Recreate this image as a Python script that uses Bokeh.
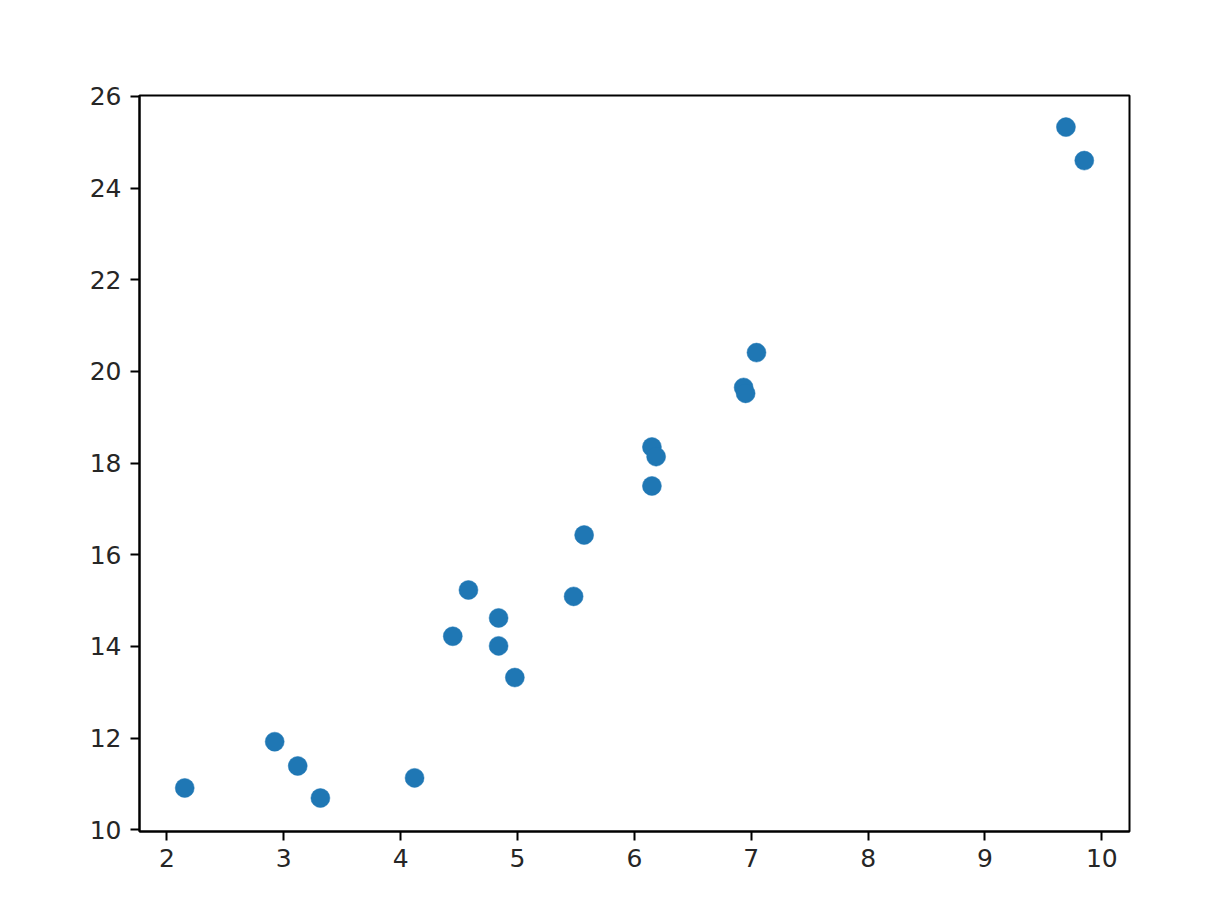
from bokeh.plotting import figure
from bokeh.models import FixedTicker, Range1d
from bokeh.embed import file_html
from bokeh.resources import INLINE

x = [2.152, 2.922, 3.119, 3.313, 4.119, 4.446, 4.580, 4.838, 4.838, 4.977,
     5.480, 5.570, 6.150, 6.186, 6.150, 6.935, 6.952, 7.045, 9.693, 9.850]
y = [10.91, 11.92, 11.39, 10.69, 11.13, 14.22, 15.23, 14.62, 14.01, 13.32,
     15.09, 16.43, 18.35, 18.14, 17.50, 19.65, 19.52, 20.41, 25.33, 24.60]
x_ticks = [2, 3, 4, 5, 6, 7, 8, 9, 10]
y_ticks = [10, 12, 14, 16, 18, 20, 22, 24, 26]

p = figure(width=1212, height=896, output_backend="svg", toolbar_location=None,
           x_range=Range1d(1.765, 10.237), y_range=Range1d(9.96, 26.02),
           min_border_left=139, min_border_right=83, min_border_top=95, min_border_bottom=65)
p.scatter(x, y, size=19, fill_color="#1f77b4", line_color="#1f77b4", line_width=0.5)

p.xgrid.visible = False
p.ygrid.visible = False
p.outline_line_color = "black"
p.outline_line_width = 2
p.outline_line_alpha = 1

for ax, ticks in ((p.xaxis, x_ticks), (p.yaxis, y_ticks)):
    ax.ticker = FixedTicker(ticks=ticks)
    ax.axis_line_color = "black"
    ax.axis_line_width = 2
    ax.major_tick_line_color = "black"
    ax.major_tick_line_width = 2
    ax.major_tick_in = 0
    ax.major_tick_out = 9
    ax.minor_tick_line_color = None
    ax.major_label_text_font = "DejaVu Sans"
    ax.major_label_text_font_size = "25px"
    ax.major_label_text_color = "#262626"
p.yaxis.major_label_standoff = 9
p.xaxis.major_label_standoff = 8

open("out.html", "w").write(file_html(p, INLINE))
